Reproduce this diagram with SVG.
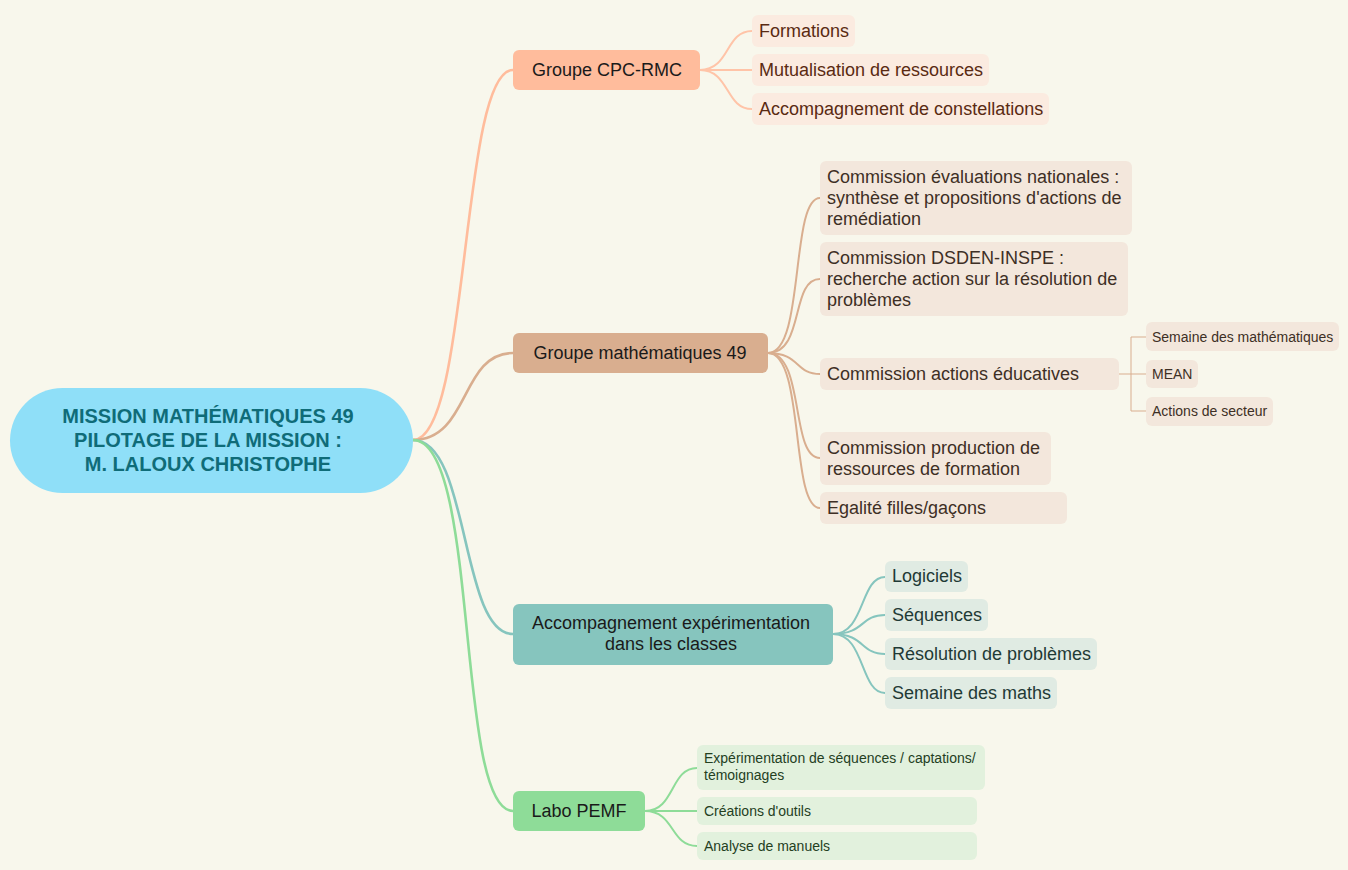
<svg xmlns="http://www.w3.org/2000/svg" width="1348" height="870" viewBox="0 0 1348 870">
<style>
text{font-family:"Liberation Sans",Arial,sans-serif}
.root{font-size:20px;font-weight:bold;fill:#0f6c78}
.g{font-size:18px;fill:#1a1a1a}
.c{font-size:18px}
.s{font-size:14px}
.ln{fill:none;stroke-width:2}
.mn{fill:none;stroke-width:2.6}
</style>
<rect width="1348" height="870" fill="#f8f7ec"/>
<g id="connectors">
<path class="mn" stroke="#ffbc9c" d="M413,440 C470,440 460,70 513,70"/>
<path class="mn" stroke="#d9ae8f" d="M413,440 C470,440 460,353 513,353"/>
<path class="mn" stroke="#86c5be" d="M413,440 C470,440 460,634 513,634"/>
<path class="mn" stroke="#8edc98" d="M413,440 C480,440 455,811 513,811"/>
<g stroke="#ffc4a8" class="ln">
<path d="M700,70 C730,70 725,31 752,31"/>
<path d="M700,70 L752,70"/>
<path d="M700,70 C730,70 725,109 752,109"/>
</g>
<g stroke="#d9ae8f" class="ln">
<path d="M768,353 C805,353 790,198 820,198"/>
<path d="M768,353 C805,353 790,279 820,279"/>
<path d="M768,353 C800,353 795,374 820,374"/>
<path d="M768,353 C805,353 790,458 820,458"/>
<path d="M768,353 C805,353 790,508 820,508"/>
<path d="M1119,374 H1131 M1131,337 V411 M1131,337 H1146 M1131,374 H1146 M1131,411 H1146" stroke-width="1"/>
</g>
<g stroke="#86c5be" class="ln">
<path d="M833,634 C865,634 860,577 885,577"/>
<path d="M833,634 C865,634 860,615 885,615"/>
<path d="M833,634 C865,634 860,654 885,654"/>
<path d="M833,634 C865,634 860,693 885,693"/>
</g>
<g stroke="#8edc98" class="ln">
<path d="M645,811 C675,811 670,768 697,768"/>
<path d="M645,811 L697,811"/>
<path d="M645,811 C675,811 670,846 697,846"/>
</g>
</g>
<g id="root">
<rect x="10" y="388" width="403" height="105" rx="52.5" fill="#8fdff8"/>
<text class="root" text-anchor="middle" x="208" y="423">MISSION MATHÉMATIQUES 49</text>
<text class="root" text-anchor="middle" x="208" y="447">PILOTAGE DE LA MISSION :</text>
<text class="root" text-anchor="middle" x="208" y="471">M. LALOUX CHRISTOPHE</text>
</g>
<g id="cpc">
<rect x="513" y="50" width="187" height="40" rx="6" fill="#ffbc9c"/>
<text class="g" text-anchor="middle" x="607" y="76">Groupe CPC-RMC</text>
</g>
<g id="cpc-children" fill="#fbebe0">
<g id="formations"><rect x="752" y="15" width="103" height="32" rx="6"/><text class="c" x="759" y="37" fill="#5a2a12">Formations</text></g>
<g id="mutualisation"><rect x="752" y="54" width="237" height="32" rx="6"/><text class="c" x="759" y="76" fill="#5a2a12">Mutualisation de ressources</text></g>
<g id="constellations"><rect x="752" y="93" width="297" height="32" rx="6"/><text class="c" x="759" y="115" fill="#5a2a12">Accompagnement de constellations</text></g>
</g>
<g id="maths">
<rect x="513" y="333" width="255" height="40" rx="6" fill="#d9ae8f"/>
<text class="g" text-anchor="middle" x="640" y="359">Groupe mathématiques 49</text>
</g>
<g id="maths-children" fill="#f3e7dc">
<g id="eval"><rect x="820" y="161" width="312" height="74" rx="6"/>
<text class="c" x="827" y="183" fill="#3e2f25">Commission évaluations nationales :</text>
<text class="c" x="827" y="204" fill="#3e2f25">synthèse et propositions d'actions de</text>
<text class="c" x="827" y="225" fill="#3e2f25">remédiation</text></g>
<g id="dsden"><rect x="820" y="242" width="308" height="74" rx="6"/>
<text class="c" x="827" y="264" fill="#3e2f25">Commission DSDEN-INSPE :</text>
<text class="c" x="827" y="285" fill="#3e2f25">recherche action sur la résolution de</text>
<text class="c" x="827" y="306" fill="#3e2f25">problèmes</text></g>
<g id="actions"><rect x="820" y="358" width="299" height="32" rx="6"/>
<text class="c" x="827" y="380" fill="#3e2f25">Commission actions éducatives</text></g>
<g id="production"><rect x="820" y="432" width="231" height="53" rx="6"/>
<text class="c" x="827" y="454" fill="#3e2f25">Commission production de</text>
<text class="c" x="827" y="475" fill="#3e2f25">ressources de formation</text></g>
<g id="egalite"><rect x="820" y="492" width="247" height="32" rx="6"/>
<text class="c" x="827" y="514" fill="#3e2f25">Egalité filles/gaçons</text></g>
<g id="semaine-maths"><rect x="1146" y="322" width="193" height="29" rx="6"/>
<text class="s" x="1152" y="342" fill="#3e2f25">Semaine des mathématiques</text></g>
<g id="mean"><rect x="1146" y="360" width="52" height="28" rx="6"/>
<text class="s" x="1152" y="379" fill="#3e2f25">MEAN</text></g>
<g id="secteur"><rect x="1146" y="397" width="127" height="29" rx="6"/>
<text class="s" x="1152" y="416" fill="#3e2f25">Actions de secteur</text></g>
</g>
<g id="accompagnement">
<rect x="513" y="604" width="320" height="61" rx="6" fill="#86c5be"/>
<text class="g" text-anchor="middle" x="671" y="629">Accompagnement expérimentation</text>
<text class="g" text-anchor="middle" x="671" y="650">dans les classes</text>
</g>
<g id="accompagnement-children" fill="#e0ebe3">
<g id="logiciels"><rect x="885" y="561" width="83" height="31" rx="6"/><text class="c" x="892" y="582" fill="#1f3a36">Logiciels</text></g>
<g id="sequences"><rect x="885" y="599" width="103" height="32" rx="6"/><text class="c" x="892" y="621" fill="#1f3a36">Séquences</text></g>
<g id="resolution"><rect x="885" y="638" width="212" height="32" rx="6"/><text class="c" x="892" y="660" fill="#1f3a36">Résolution de problèmes</text></g>
<g id="semaine"><rect x="885" y="677" width="172" height="32" rx="6"/><text class="c" x="892" y="699" fill="#1f3a36">Semaine des maths</text></g>
</g>
<g id="labo">
<rect x="513" y="791" width="132" height="40" rx="6" fill="#8edc98"/>
<text class="g" text-anchor="middle" x="579" y="817">Labo PEMF</text>
</g>
<g id="labo-children" fill="#e2f1dd">
<g id="experimentation"><rect x="697" y="745" width="288" height="45" rx="6"/>
<text class="s" x="704" y="763" fill="#24401f">Expérimentation de séquences / captations/</text>
<text class="s" x="704" y="780" fill="#24401f">témoignages</text></g>
<g id="outils"><rect x="697" y="797" width="280" height="28" rx="6"/>
<text class="s" x="704" y="816" fill="#24401f">Créations d'outils</text></g>
<g id="manuels"><rect x="697" y="832" width="280" height="28" rx="6"/>
<text class="s" x="704" y="851" fill="#24401f">Analyse de manuels</text></g>
</g>
</svg>
